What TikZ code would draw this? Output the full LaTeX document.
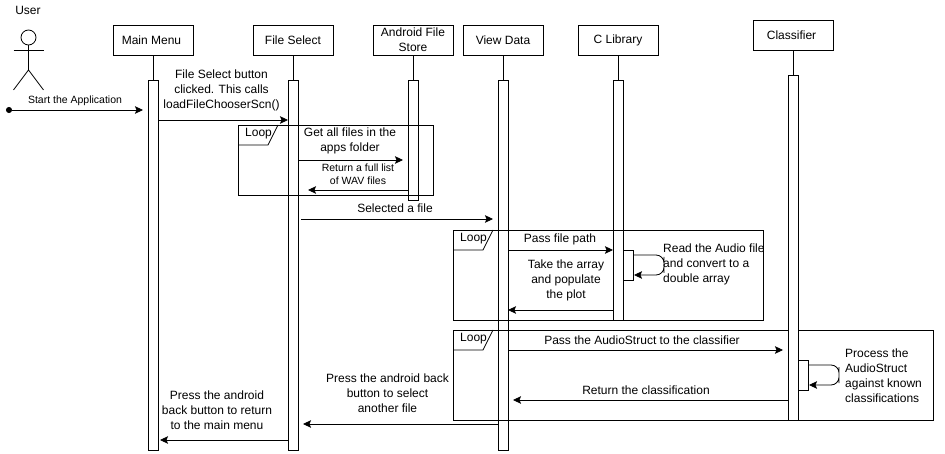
\documentclass[tikz,border=0pt]{standalone}
\usepackage{fontspec}
\setmainfont{Liberation Sans}
\usetikzlibrary{arrows.meta,calc}
\tikzset{
  every node/.style={font=\fontsize{12}{15}\selectfont},
  headbox/.style={draw=black, fill=white, line width=0.8pt, minimum width=80pt, minimum height=30pt, inner sep=0pt, align=center},
  bar/.style={draw=black, fill=white, line width=0.8pt, minimum width=10pt, inner sep=0pt},
  lifeline/.style={draw=black, line width=0.8pt},
  msg/.style={draw=black, line width=0.8pt, -{Stealth[length=8pt,width=7.5pt,inset=1.5pt]}},
  startmsg/.style={draw=black, line width=0.8pt, {Circle[length=6pt]}-{Stealth[length=8pt,width=7.5pt,inset=1.5pt]}},
  selfmsg/.style={msg, rounded corners=8pt},
  frameline/.style={draw=black, line width=0.8pt},
  label/.style={inner sep=0pt, align=center},
  smalllabel/.style={inner sep=0pt, align=center, font=\fontsize{10.5}{13.5}\selectfont},
  sidelabel/.style={inner sep=0pt, align=left, anchor=west},
  actorline/.style={draw=black, line width=0.8pt},
}
\begin{document}
\begin{tikzpicture}[x=1pt,y=-1pt]
  \useasboundingbox (0,0) rectangle (945,454);

  % ── Lifeline heads and activation bars ──
  \foreach \nm/\cx/\hy/\ya/\yb/\txt in {
      Main/153/40/80/450/{Main Menu\hspace{3pt}},
      Select/293/40/80/450/{File Select},
      Store/413/40/80/200/{Android File\\Store},
      View/503/40/80/450/{View Data},
      Clib/618/40/80/320/{C Library}} {
    \node[headbox] (head\nm) at (\cx,\hy) {\txt};
    \node[bar, minimum height={(\yb-\ya)*1pt}] (bar\nm) at ({\cx},{(\ya+\yb)/2}) {};
    \draw[lifeline] (head\nm) -- (bar\nm);
  }
  \node[bar, minimum height=30pt] (readBar) at (628,265) {};

  % ── Loop frames (lines run across the bars) ──
  \foreach \nm/\xa/\xb/\ya/\yb/\tx in {
      One/238/433/125/195/250,
      Two/453/763/230/320/465,
      Three/453/933/330/420/465} {
    \draw[frameline] (\xa,\ya) rectangle (\xb,\yb);
    \draw[frameline] (\xa,{\ya+20}) -- ({\xa+30},{\ya+20}) -- ({\xa+40},\ya);
    \node[label, anchor=west] (loop\nm) at ({\xa+7},{\ya+9}) {Loop};
  }

  % ── Classifier sits over the third frame ──
  \node[headbox] (headClassifier) at (793,35) {Classifier\hspace{3pt}};
  \node[bar, minimum height=345pt] (barClassifier) at (793,247.5) {};
  \draw[lifeline] (headClassifier) -- (barClassifier);
  \node[bar, minimum height=30pt] (processBar) at (803,375) {};

  % ── User ──
  \node[label] (userName) at (28,10) {User};
  \node[circle, draw=black, line width=0.8pt, minimum size=15pt, inner sep=0pt] (userHead) at (28.5,37.5) {};
  \coordinate (userHip) at (28.5,70);
  \coordinate (userArmL) at (13.5,50);
  \coordinate (userArmR) at (43.5,50);
  \coordinate (userFootL) at (13.5,90);
  \coordinate (userFootR) at (43.5,90);
  \draw[actorline] (userHead) -- (userHip);
  \draw[actorline] (userArmL) -- (userArmR);
  \draw[actorline] (userFootL) -- (userHip) -- (userFootR);

  % ── Message ends ──
  \coordinate (startA) at (6,110);         \coordinate (startB) at (143,110);
  \coordinate (clickA) at (158,120);       \coordinate (clickB) at (288,120);
  \coordinate (getA) at (298,160);         \coordinate (getB) at (403,160);
  \coordinate (listA) at (408,190);        \coordinate (listB) at (308,190);
  \coordinate (fileA) at (301,219);        \coordinate (fileB) at (493,219);
  \coordinate (pathA) at (508,250);        \coordinate (pathB) at (613,250);
  \coordinate (plotA) at (613,310);        \coordinate (plotB) at (508,310);
  \coordinate (readA) at (633,255);        \coordinate (readB) at (634,275);
  \coordinate (passA) at (508,350);        \coordinate (passB) at (783,350);
  \coordinate (classA) at (788,400);       \coordinate (classB) at (513,400);
  \coordinate (procA) at (808,365);        \coordinate (procB) at (809,385);
  \coordinate (backA) at (498,424);        \coordinate (backB) at (303,424);
  \coordinate (menuA) at (288,440);        \coordinate (menuB) at (160,440);

  % ── Messages ──
  \draw[startmsg] (startA) -- (startB);
  \foreach \nm in {click,get,list,file,path,plot,pass,class,back,menu} {
    \draw[msg] (\nm A) -- (\nm B);
  }
  \draw[selfmsg] (readA) -| (664,265) |- (readB);
  \draw[selfmsg] (procA) -| (839,375) |- (procB);

  % ── Message labels ──
  \node[smalllabel] (startText) at (75,100.5) {Start the Application};
  \node[label] (clickText) at (221.5,90) {File Select button\\clicked. This calls\\loadFileChooserScn()};
  \node[label] (getText) at (350,140.5) {Get all files in the\\apps folder};
  \node[smalllabel] (listText) at (358,174) {Return a full list\\of WAV files};
  \node[label] (fileText) at (395,208) {Selected a file};
  \node[label] (pathText) at (560,239) {Pass file path};
  \node[label] (plotText) at (566,280) {Take the array\\and populate\\the plot};
  \node[sidelabel] (readText) at (663,264) {Read the Audio file\\and convert to a\\double array};
  \node[label] (passText) at (642,340) {Pass the AudioStruct to the classifier};
  \node[label] (classText) at (646,390) {Return the classification};
  \node[sidelabel] (procText) at (845,376) {Process the\\AudioStruct\\against known\\classifications};
  \node[label] (backText) at (387.5,393) {Press the android back\\button to select\\another file};
  \node[label] (menuText) at (217,410) {Press the android\\back button to return\\to the main menu};
\end{tikzpicture}
\end{document}
